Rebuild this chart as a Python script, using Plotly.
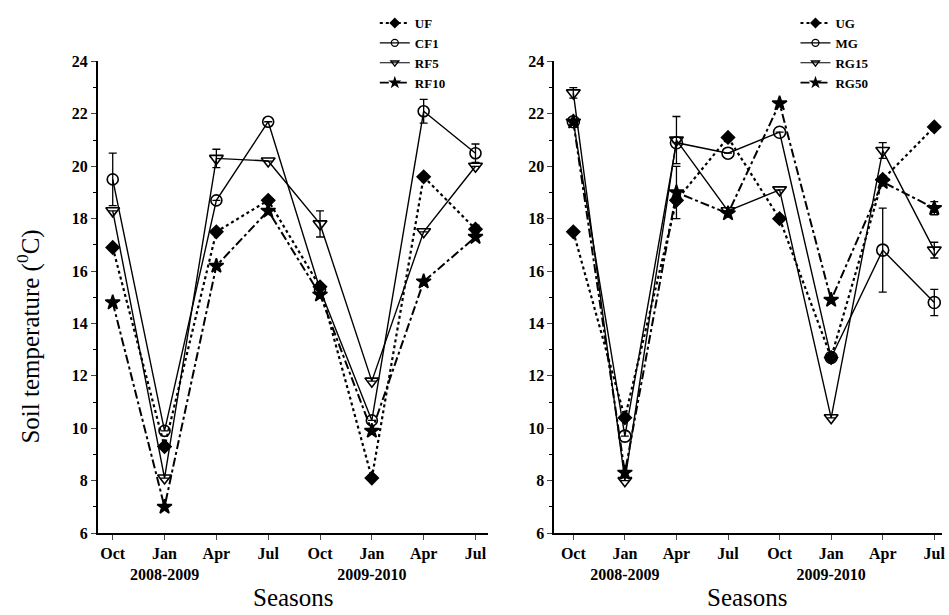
import plotly.graph_objects as go

seasons = ["Oct", "Jan", "Apr", "Jul", "Oct", "Jan", "Apr", "Jul"]
tick_text = ["Oct", "Jan<br>2008-2009", "Apr", "Jul", "Oct", "Jan<br>2009-2010", "Apr", "Jul"]
xpos = list(range(len(seasons)))

# Left panel (forest)
UF = [16.9, 9.3, 17.5, 18.7, 15.4, 8.1, 19.6, 17.6]
CF1 = [19.5, 9.9, 18.7, 21.7, 15.3, 10.3, 22.1, 20.5]
RF5 = [18.3, 8.1, 20.3, 20.2, 17.8, 11.8, 17.5, 20.0]
RF10 = [14.8, 7.0, 16.2, 18.3, 15.1, 9.9, 15.6, 17.3]
UF_err = [0, 0, 0, 0, 0, 0, 0, 0.15]
CF1_err = [1.0, 0, 0, 0, 0, 0, 0.45, 0.35]
RF5_err = [0, 0, 0.35, 0, 0.5, 0, 0, 0]
RF10_err = [0, 0, 0, 0, 0, 0, 0, 0]

# Right panel (grassland)
UG = [17.5, 10.4, 18.7, 21.1, 18.0, 12.7, 19.5, 21.5]
MG = [21.7, 9.7, 20.9, 20.5, 21.3, 12.7, 16.8, 14.8]
RG15 = [22.8, 8.0, 21.0, 18.3, 19.1, 10.4, 20.6, 16.8]
RG50 = [21.7, 8.3, 19.0, 18.2, 22.4, 14.9, 19.4, 18.4]
UG_err = [0, 0, 0, 0, 0, 0, 0, 0]
MG_err = [0, 0, 0, 0, 0, 0, 1.6, 0.5]
RG15_err = [0.2, 0, 0.9, 0, 0, 0, 0.3, 0.3]
RG50_err = [0, 0, 1.0, 0, 0, 0, 0, 0.25]

W, H = 949, 615
font_fam = "Liberation Serif"

styles = {
    "dot": dict(dash="dot", width=2.2),
    "solid": dict(dash="solid", width=1.4),
    "dashdot": dict(dash="dashdot", width=2.0),
}

fig = go.Figure()

def add(name, y, err, sym, size, dash, xa, ya, legend):
    fig.add_trace(go.Scatter(
        x=xpos, y=y, name=name, mode="lines+markers", showlegend=False,
        line=dict(color="black", **styles[dash]),
        marker=dict(symbol=sym, size=size, color="black",
                    line=dict(color="black", width=1.6)),
        error_y=dict(type="data", array=err, visible=True, color="black",
                     thickness=1.3, width=4),
        xaxis=xa, yaxis=ya,
    ))
    # legend-only entry with smaller marker, as in the reference key
    lw = {"dot": 2.0, "solid": 1.2, "dashdot": 1.8}[dash]
    fig.add_trace(go.Scatter(
        x=[None], y=[None], name=name, mode="lines+markers", showlegend=True,
        line=dict(color="black", dash=styles[dash]["dash"], width=lw),
        marker=dict(symbol=sym, size=7, color="black", line=dict(color="black", width=1.3)),
        xaxis=xa, yaxis=ya, legend=legend,
    ))

add("UF", UF, UF_err, "diamond", 10, "dot", "x", "y", "legend")
add("CF1", CF1, CF1_err, "circle-open", 11, "solid", "x", "y", "legend")
add("RF5", RF5, RF5_err, "triangle-down-open", 12, "solid", "x", "y", "legend")
add("RF10", RF10, RF10_err, "star", 11, "dashdot", "x", "y", "legend")

add("UG", UG, UG_err, "diamond", 10, "dot", "x2", "y2", "legend2")
add("MG", MG, MG_err, "circle-open", 12, "solid", "x2", "y2", "legend2")
add("RG15", RG15, RG15_err, "triangle-down-open", 12, "solid", "x2", "y2", "legend2")
add("RG50", RG50, RG50_err, "star", 11, "dashdot", "x2", "y2", "legend2")

tickfont = dict(family=font_fam, size=16, color="black", weight="bold")
xcommon = dict(tickmode="array", tickvals=xpos, ticktext=tick_text, ticks="outside",
               ticklen=5, tickwidth=1.3, showline=True, linecolor="black", linewidth=1.5,
               showgrid=False, zeroline=False, tickfont=tickfont)
ycommon = dict(range=[6, 24], dtick=2, ticks="outside", ticklen=5, tickwidth=1.3,
               showline=True, linecolor="black", linewidth=1.5, showgrid=False,
               zeroline=False, tickfont=tickfont,
               minor=dict(ticks="outside", ticklen=3, dtick=1, tickwidth=1, tickcolor="black"))

ytop, ybot = 1 - 55 / H, 1 - 540 / H
legfont = dict(family=font_fam, size=13, color="black", weight="bold")

fig.update_layout(
    width=W, height=H,
    margin=dict(l=0, r=0, t=0, b=0),
    paper_bgcolor="white", plot_bgcolor="white",
    xaxis=dict(domain=[98 / W, 490 / W], range=[-0.29, 7.25], anchor="y", **xcommon),
    yaxis=dict(domain=[ybot, ytop], anchor="x", **ycommon),
    xaxis2=dict(domain=[556 / W, 945 / W], range=[-0.37, 7.15], anchor="y2", **xcommon),
    yaxis2=dict(domain=[ybot, ytop], anchor="x2", **ycommon),
    legend=dict(x=376 / W, y=1 - 0 / H, xanchor="left", yanchor="top",
                font=legfont, bgcolor="rgba(0,0,0,0)", tracegroupgap=0, itemwidth=30),
    legend2=dict(x=798 / W, y=1 - 0 / H, xanchor="left", yanchor="top",
                 font=legfont, bgcolor="rgba(0,0,0,0)", tracegroupgap=0, itemwidth=30),
    annotations=[
        dict(text="Seasons", x=294 / W, y=1 - 606 / H, xref="paper", yref="paper",
             xanchor="center", yanchor="middle",
             showarrow=False, font=dict(family=font_fam, size=25, color="black")),
        dict(text="Seasons", x=750 / W, y=1 - 606 / H, xref="paper", yref="paper",
             xanchor="center", yanchor="middle",
             showarrow=False, font=dict(family=font_fam, size=25, color="black")),
        dict(text="Soil temperature (<sup>0</sup>C)", x=29 / W, y=1 - 338 / H,
             xref="paper", yref="paper", showarrow=False, textangle=-90,
             xanchor="center", yanchor="middle",
             font=dict(family=font_fam, size=25, color="black")),
    ],
)

fig.write_html("out.html")
